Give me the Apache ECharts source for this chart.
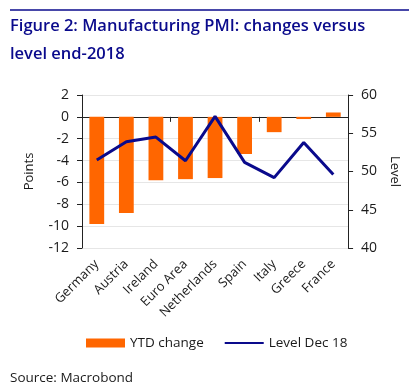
<!DOCTYPE html>
<html><head><meta charset="utf-8">
<script src="https://cdn.jsdelivr.net/npm/echarts@6/dist/echarts.min.js"></script>
<style>
html,body{margin:0;padding:0;background:#fff;}
#c{width:409px;height:385px;}
</style></head>
<body><div id="c"></div>
<script>
const categories = ["Germany","Austria","Ireland","Euro Area","Netherlands","Spain","Italy","Greece","France"];
const ytdChange = [-9.8,-8.8,-5.8,-5.7,-5.6,-3.4,-1.4,-0.2,0.4];
const levelDec18 = [51.5,53.9,54.5,51.4,57.2,51.2,49.2,53.8,49.6];
const leftTicks = {min:-12,max:2,interval:2};
const rightTicks = {min:40,max:60,interval:5};

const navy = '#0a0a8c';
const orange = '#ff6600';
const txt = '#1a1a1a';
const font = 'Open Sans';
const chart = echarts.init(document.getElementById('c'));
chart.setOption({
  animation:false,
  graphic:[
    {type:'line',shape:{x1:10,y1:10,x2:409,y2:10},style:{stroke:navy,lineWidth:1.5}},
    {type:'text',left:10,top:18,style:{text:'Figure 2: Manufacturing PMI: changes versus',fill:navy,font:'600 16.5px "Open Sans"'}},
    {type:'text',left:10,top:46,style:{text:'level end-2018',fill:navy,font:'600 16.5px "Open Sans"'}},
    {type:'text',left:10,top:371,style:{text:'Source: Macrobond',fill:txt,font:'13.5px "Open Sans"'}}
  ],
  grid:{left:82,right:59,top:95,bottom:137},
  legend:{
    bottom:30,left:81,itemGap:20,itemWidth:39,itemHeight:9,
    textStyle:{color:txt,fontFamily:font,fontSize:13.5},
    data:[{name:'YTD change',icon:'rect'},{name:'Level Dec 18',itemStyle:{opacity:0}}]
  },
  xAxis:[
    {type:'category',data:categories,position:'bottom',
     axisLine:{show:false,onZero:false},axisTick:{show:false},
     axisLabel:{rotate:45,color:txt,fontFamily:font,fontSize:13,margin:14,interval:0}},
    {type:'category',data:categories,position:'bottom',
     axisLine:{show:true,onZero:true,onZeroAxisIndex:0,lineStyle:{color:'#222',width:1}},
     axisTick:{show:true,inside:false,length:5,lineStyle:{color:'#222'}},
     axisLabel:{show:false}}
  ],
  yAxis:[
    {type:'value',min:leftTicks.min,max:leftTicks.max,interval:leftTicks.interval,
     name:'Points',nameLocation:'middle',nameGap:46,nameRotate:90,
     nameTextStyle:{color:txt,fontFamily:font,fontSize:13},
     axisLine:{show:true,lineStyle:{color:'#222'}},
     axisTick:{show:true,length:5,lineStyle:{color:'#222'}},
     axisLabel:{color:txt,fontFamily:font,fontSize:14,margin:13},
     splitLine:{show:true,lineStyle:{color:'#e6e6e6',width:1}}},
    {type:'value',min:rightTicks.min,max:rightTicks.max,interval:rightTicks.interval,position:'right',
     name:'Level',nameLocation:'middle',nameGap:35,nameRotate:-90,
     nameTextStyle:{color:txt,fontFamily:font,fontSize:13},
     axisLine:{show:true,lineStyle:{color:'#222'}},
     axisTick:{show:true,length:5,lineStyle:{color:'#222'}},
     axisLabel:{color:txt,fontFamily:font,fontSize:14,margin:13},
     splitLine:{show:false}}
  ],
  series:[
    {name:'YTD change',type:'bar',data:ytdChange,xAxisIndex:0,yAxisIndex:0,barWidth:'50%',
     itemStyle:{color:orange}},
    {name:'Level Dec 18',type:'line',data:levelDec18,xAxisIndex:0,yAxisIndex:1,
     symbol:'none',lineStyle:{color:navy,width:3},itemStyle:{color:navy}}
  ]
});
</script></body></html>
